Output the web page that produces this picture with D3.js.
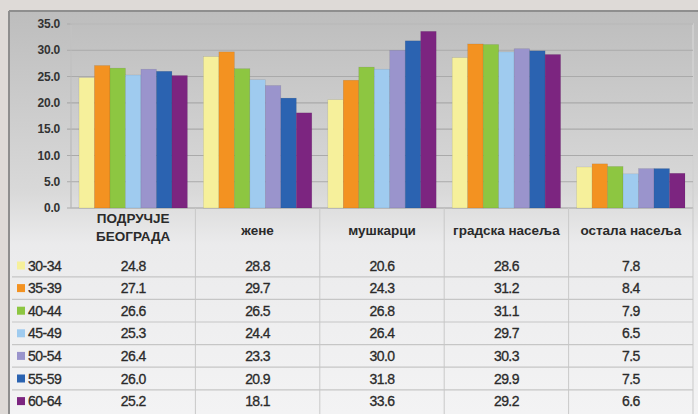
<!DOCTYPE html>
<html>
<head>
<meta charset="utf-8">
<script src="https://cdn.jsdelivr.net/npm/d3@7"></script>
<style>
  body { margin: 0; background: #dedad7; }
  svg { display: block; font-family: "Liberation Sans", Arial, sans-serif; }
</style>
</head>
<body>
<svg id="chart" width="698" height="414"></svg>
<script>
// categories (table columns) and age groups (series)
var categories = ["ПОДРУЧЈЕ БЕОГРАДА", "жене", "мушкарци", "градска насеља", "остала насеља"];
var series = ["30-34", "35-39", "40-44", "45-49", "50-54", "55-59", "60-64"];
var colors = ["#f6f09b", "#f39221", "#8dc641", "#9fcbef", "#9a94cc", "#2b63b1", "#7c2580"];

// values[series][category]
var v3034 = [24.8, 28.8, 20.6, 28.6, 7.8];
var v3539 = [27.1, 29.7, 24.3, 31.2, 8.4];
var v4044 = [26.6, 26.5, 26.8, 31.1, 7.9];
var v4549 = [25.3, 24.4, 26.4, 29.7, 6.5];
var v5054 = [26.4, 23.3, 30.0, 30.3, 7.5];
var v5559 = [26.0, 20.9, 31.8, 29.9, 7.5];
var v6064 = [25.2, 18.1, 33.6, 29.2, 6.6];
var values = [v3034, v3539, v4044, v4549, v5054, v5559, v6064];

var yTicks = [0, 5, 10, 15, 20, 25, 30, 35];

var svg = d3.select("#chart");
var fmt = d3.format(".1f");

// background panel
var defs = svg.append("defs");
var grad = defs.append("linearGradient").attr("id", "panelGrad")
    .attr("x1", 0).attr("y1", 0).attr("x2", 0).attr("y2", 1);
grad.append("stop").attr("offset", "0%").attr("stop-color", "#bdbdbd");
grad.append("stop").attr("offset", "45%").attr("stop-color", "#d9d9d9");
grad.append("stop").attr("offset", "58%").attr("stop-color", "#ebebec");
grad.append("stop").attr("offset", "100%").attr("stop-color", "#f3f3f4");

svg.append("rect").attr("x", 0).attr("y", 0).attr("width", 698).attr("height", 414).attr("fill", "#dedad7");
svg.append("rect").attr("x", 9).attr("y", 11).attr("width", 689).attr("height", 403).attr("fill", "url(#panelGrad)");
svg.append("line").attr("x1", 9).attr("x2", 698).attr("y1", 11).attr("y2", 11).attr("stroke", "#8e8e8e").attr("stroke-width", 2);
svg.append("line").attr("x1", 9).attr("x2", 9).attr("y1", 11).attr("y2", 414).attr("stroke", "#8e8e8e").attr("stroke-width", 2);

// scales
var plot = {left: 71, right: 693, top: 24, bottom: 208};
var x0 = d3.scaleBand().domain(categories).range([plot.left, plot.right]).paddingInner(0);
var x1 = d3.scaleBand().domain(series).range([8, x0.bandwidth() - 8]).padding(0);
var y = d3.scaleLinear().domain([0, 35]).range([plot.bottom, plot.top]);

// plot frame
svg.append("rect").attr("x", plot.left).attr("y", plot.top)
    .attr("width", plot.right - plot.left).attr("height", plot.bottom - plot.top)
    .attr("fill", "none").attr("stroke", "#d2d2d2").attr("stroke-width", 1.5);

// gridlines
svg.append("g").selectAll("line").data(yTicks).enter().append("line")
    .attr("x1", plot.left - 4).attr("x2", plot.right)
    .attr("y1", function (d) { return y(d); }).attr("y2", function (d) { return y(d); })
    .attr("stroke", "#aaaaaa").attr("stroke-width", 1.1);
svg.append("line").attr("x1", plot.left).attr("x2", plot.left)
    .attr("y1", plot.top).attr("y2", plot.bottom).attr("stroke", "#b5b5b5");

// y labels
svg.append("g").selectAll("text").data(yTicks).enter().append("text")
    .attr("x", 60).attr("y", function (d) { return y(d); }).attr("dy", "0.35em")
    .attr("text-anchor", "end").attr("font-size", 12).attr("font-weight", "bold")
    .attr("letter-spacing", -0.2)
    .attr("fill", "#333").text(function (d) { return fmt(d); });

// bars
var rows = [];
values.forEach(function (arr, si) {
    arr.forEach(function (val, ci) {
        rows.push({s: series[si], c: categories[ci], v: val, si: si});
    });
});
svg.append("g").selectAll("rect").data(rows).enter().append("rect")
    .attr("x", function (d) { return x0(d.c) + x1(d.s); })
    .attr("y", function (d) { return y(d.v); })
    .attr("width", x1.bandwidth())
    .attr("height", function (d) { return y(0) - y(d.v); })
    .attr("fill", function (d) { return colors[d.si]; })
    .attr("stroke", "rgba(0,0,0,0.12)").attr("stroke-width", 0.6);

// data table
var rowY0 = 265.5, rowH = 22.6;
var table = svg.append("g");

// column dividers
table.selectAll("line.col").data(categories.slice(1).concat(["end"])).enter().append("line")
    .attr("x1", function (d, i) { return plot.left + (i + 1) * x0.bandwidth(); })
    .attr("x2", function (d, i) { return plot.left + (i + 1) * x0.bandwidth(); })
    .attr("y1", plot.bottom).attr("y2", 414)
    .attr("stroke", "#c9c9c9").attr("stroke-width", 1);

// row separators
table.selectAll("line.row").data(series.slice(1)).enter().append("line")
    .attr("x1", 12).attr("x2", plot.right)
    .attr("y1", function (d, i) { return rowY0 + (i + 0.5) * rowH; })
    .attr("y2", function (d, i) { return rowY0 + (i + 0.5) * rowH; })
    .attr("stroke", "#c6c6c6").attr("stroke-width", 1.2);

// header
table.selectAll("text.head").data(categories).enter().append("text")
    .attr("x", function (d) { return x0(d) + x0.bandwidth() / 2; })
    .attr("y", 230).attr("text-anchor", "middle")
    .attr("font-size", 13.5).attr("font-weight", "bold").attr("fill", "#2a2a2a")
    .each(function (d) {
        var parts = d.split(" ");
        var t = d3.select(this);
        if (d === d.toUpperCase() && parts.length > 1) {
            t.append("tspan").attr("x", t.attr("x")).attr("dy", "-0.5em").text(parts[0]);
            t.append("tspan").attr("x", t.attr("x")).attr("dy", "1.3em").text(parts[1]);
        } else {
            t.attr("dy", "0.35em").text(d);
        }
    });

// legend keys
table.selectAll("rect.key").data(series).enter().append("rect")
    .attr("x", 17).attr("y", function (d, i) { return rowY0 + i * rowH - 4; })
    .attr("width", 8).attr("height", 8)
    .attr("fill", function (d, i) { return colors[i]; });
table.selectAll("text.key").data(series).enter().append("text")
    .attr("x", 28).attr("y", function (d, i) { return rowY0 + i * rowH; }).attr("dy", "0.37em")
    .attr("font-size", 14).attr("letter-spacing", -0.5).attr("fill", "#2a2a2a")
    .attr("stroke", "#2a2a2a").attr("stroke-width", 0.3)
    .text(function (d) { return d; });

// cell values
table.selectAll("text.val").data(rows).enter().append("text")
    .attr("x", function (d) { return x0(d.c) + x0.bandwidth() / 2; })
    .attr("y", function (d) { return rowY0 + d.si * rowH; }).attr("dy", "0.37em")
    .attr("text-anchor", "middle").attr("font-size", 14).attr("letter-spacing", -0.6)
    .attr("fill", "#2a2a2a").attr("stroke", "#2a2a2a").attr("stroke-width", 0.3)
    .text(function (d) { return fmt(d.v); });
</script>
</body>
</html>
